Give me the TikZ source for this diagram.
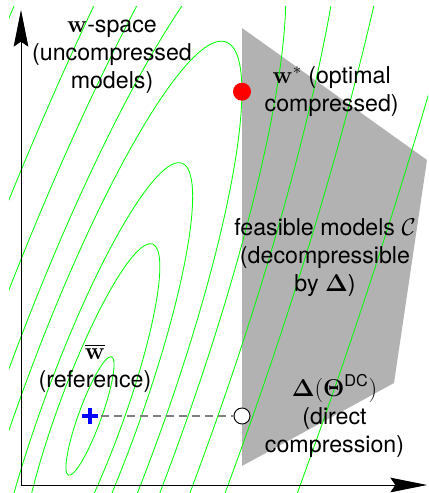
\documentclass[tikz,border=0pt]{standalone}
\usepackage{amsmath,amssymb}
\usepackage[no-math]{fontspec}
\setmainfont{TeX Gyre Heros}
\usepackage{xcolor}
\usepackage{tikz}
\usetikzlibrary{arrows.meta, positioning}

\begin{document}
\begin{tikzpicture}[
    every node/.style={font=\fontsize{19.8}{23.9}\selectfont, align=center},
    contour/.style={draw=green, line width=0.7pt},
    feasible/.style={fill=black!30, draw=none},
    arr/.style={-{Stealth[length=11mm, width=4.4mm, inset=1.5mm]}, line width=0.8pt},
    dot/.style={circle, fill=red, inner sep=0pt, minimum size=5.4mm},
    hollow/.style={circle, draw, fill=white, line width=0.8pt, inner sep=0pt, minimum size=4.8mm},
    refmark/.style={inner sep=0pt, minimum size=4.6mm},
    dashline/.style={draw=black!50, line width=1.4pt, dash pattern=on 2.4mm off 1.5mm, shorten <=1mm},
  ]
  \useasboundingbox (0,0) rectangle (12.84,14.79);
  \fill[feasible] (7.26,13.95) -- (12.81,9.99) -- (11.82,3.30) -- (7.26,0.81) -- cycle;
  % level sets of the loss
  \begin{scope}
    \clip (0.27,0) rectangle (12.84,14.58);
    \foreach \a in {1.89,5.49,8.07,11.94,15.39,20.07,25.56,36.87}
      \draw[contour, rotate around={70:(2.70,2.31)}] (2.70,2.31) ellipse [x radius=\a, y radius=0.18*\a];
  \end{scope}
  % axes
  \coordinate (o) at (0.63,0.24);
  \coordinate (ytip) at (0.63,14.49);
  \coordinate (xtip) at (12.81,0.24);
  \draw[arr] (o) -- (ytip);
  \draw[arr] (o) -- (xtip);
  % points
  \node[dot] (wstar) at (7.26,12.04) {};
  \node[hollow] (dc) at (7.26,2.31) {};
  \node[refmark] (ref) at (2.70,2.31) {};
  \draw[blue, line width=2.6pt] (ref.west) -- (ref.east) (ref.north) -- (ref.south);
  \draw[dashline] (ref) -- (dc);
  % labels
  \node (wspace) at (3.36,13.08) {$\mathbf{w}$-space\\(uncompressed\\models)};
  \node[right=2.8mm of wstar] (wstarlabel) {$\mathbf{w}^*$ (optimal\\compressed)};
  \node (feaslabel) at (9.75,7.05) {feasible models $\mathcal{C}$\\(decompressible\\by $\boldsymbol{\Delta}$)};
  \node (reflabel) at (2.85,3.75) {$\overline{\mathbf{w}}$\\(reference)};
  \node[right=3.1mm of dc] (dclabel) {$\boldsymbol{\Delta}(\boldsymbol{\Theta}^{\text{DC}})$\\(direct\\compression)};
\end{tikzpicture}
\end{document}
